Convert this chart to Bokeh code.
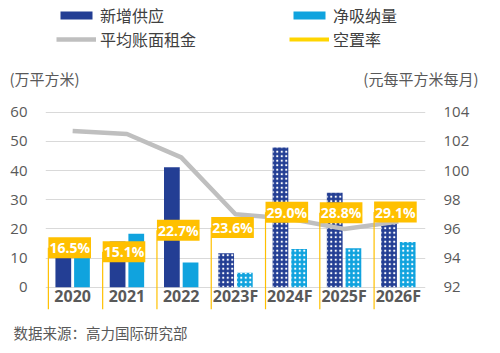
from bokeh.plotting import figure
from bokeh.layouts import column
from bokeh.models import (Range1d, LinearAxis, FixedTicker, ColumnDataSource, Legend,
                          LegendItem, Label, FactorRange, Title)
from bokeh.transform import dodge
from bokeh.core.properties import value
from bokeh.embed import file_html
from bokeh.resources import INLINE

# ---------------- data ----------------
years = ["2020", "2021", "2022", "2023F", "2024F", "2025F", "2026F"]
new_supply = [10.0, 15.7, 41.1, 11.7, 47.9, 32.4, 22.0]        # 万平方米
net_absorption = [10.0, 18.3, 8.5, 5.0, 13.1, 13.4, 15.5]     # 万平方米
avg_rent = [102.7, 102.5, 100.9, 97.0, 96.7, 96.0, 96.5]      # 元每平方米每月
vacancy = [16.5, 15.1, 22.7, 23.6, 29.0, 28.8, 29.1]          # %
left_ticks = [0, 10, 20, 30, 40, 50, 60]
right_ticks = [92, 94, 96, 98, 100, 102, 104]
series_names = ["新增供应", "净吸纳量", "平均账面租金", "空置率"]
left_title = "(万平方米)"
right_title = "(元每平方米每月)"
source_note = "数据来源：高力国际研究部"

# ---------------- styles ----------------
NAVY = "#233E94"
CYAN = "#10A3DE"
GRAY = "#BFBFBF"
YELLOW = "#FFC000"
LEG_YELLOW = "#FFD500"
TXT = "#595959"
CJK = "Noto Sans CJK SC"
LAT = "Open Sans"
VAC_FLOOR = -5.25
HEAD_H = 95

is_fc = [y.endswith("F") for y in years]


def subset(mask):
    idx = [i for i, m in enumerate(mask) if m]
    return ColumnDataSource(dict(
        year=[years[i] for i in idx],
        supply=[new_supply[i] for i in idx],
        absorb=[net_absorption[i] for i in idx],
    ))


src_act = subset([not f for f in is_fc])
src_fc = subset(is_fc)
src = ColumnDataSource(dict(
    year=years, rent=avg_rent, vac=vacancy,
    vac_label=[f"{v:.1f}%" for v in vacancy],
    floor=[VAC_FLOOR] * len(years),
))

# ---------------- header (legend + axis titles) ----------------
h = figure(width=500, height=HEAD_H, x_range=FactorRange(*years), y_range=Range1d(0, 60),
           output_backend="svg", toolbar_location=None, x_axis_location=None,
           y_axis_location=None, min_border=0, outline_line_color=None)
h.frame_align = False
h.grid.visible = False
hr_sup = h.vbar(x="year", top="supply", width=0.3, source=src_act, fill_color=NAVY,
                line_color=None, visible=False)
hr_abs = h.vbar(x="year", top="absorb", width=0.3, source=src_act, fill_color=CYAN,
                line_color=None, visible=False)
hr_rent = h.line("year", "rent", source=src, line_color=GRAY, line_width=4.5, visible=False)
hr_vac = h.line("year", "vac", source=src, line_color=LEG_YELLOW, line_width=4, visible=False)

leg_style = dict(label_text_font=CJK, label_text_font_size="16px", label_text_color="#404040",
                 glyph_width=40, glyph_height=10, label_standoff=4, spacing=-1, padding=0,
                 margin=0, border_line_color=None, background_fill_alpha=0, label_height=18)
leg1 = Legend(items=[LegendItem(label=series_names[0], renderers=[hr_sup]),
                     LegendItem(label=series_names[2], renderers=[hr_rent])],
              location=(56, 44), **leg_style)
leg2 = Legend(items=[LegendItem(label=series_names[1], renderers=[hr_abs]),
                     LegendItem(label=series_names[3], renderers=[hr_vac])],
              location=(289, 44), **leg_style)
h.add_layout(leg1, "center")
h.add_layout(leg2, "center")
h.add_layout(Label(x=9, y=HEAD_H - 78, x_units="screen", y_units="screen", text=left_title,
                   text_baseline="middle", text_font=CJK, text_font_size="15px", text_color=TXT))
h.add_layout(Label(x=478, y=HEAD_H - 78, x_units="screen", y_units="screen", text=right_title,
                   text_baseline="middle", text_align="right", text_font=CJK,
                   text_font_size="15px", text_color=TXT))

# ---------------- main chart ----------------
p = figure(width=500, height=353 - HEAD_H, x_range=FactorRange(*years),
           y_range=Range1d(-7.60, 65.69),
           output_backend="svg", toolbar_location=None, x_axis_location=None,
           min_border_left=45, min_border_right=75, min_border_top=0, min_border_bottom=40,
           outline_line_color=None)
p.frame_align = False
p.extra_y_ranges = {"rent": Range1d(90.48, 105.138), "vac": Range1d(-5.27, 70.17)}

lt = FixedTicker(ticks=left_ticks)
ax = p.yaxis[0]
ax.ticker = lt
p.ygrid.ticker = lt
p.ygrid.grid_line_color = "#D9D9D9"
p.xgrid.visible = False
ra = LinearAxis(y_range_name="rent", ticker=FixedTicker(ticks=right_ticks))
p.add_layout(ra, "right")
for a in (ax, ra):
    a.axis_line_color = None
    a.major_tick_line_color = None
    a.minor_tick_line_color = None
    a.major_tick_out = 0
    a.major_tick_in = 0
    a.major_label_standoff = 18
    a.major_label_text_font = LAT
    a.major_label_text_font_size = "15px"
    a.major_label_text_color = TXT

BW = 0.29
OFF = 0.172
p.vbar(x=dodge("year", -OFF, range=p.x_range), top="supply", width=BW, source=src_act,
       fill_color=NAVY, line_color=None)
p.vbar(x=dodge("year", OFF, range=p.x_range), top="absorb", width=BW, source=src_act,
       fill_color=CYAN, line_color=None)
hatch = dict(hatch_pattern="dot", hatch_color="white", hatch_scale=4.5, hatch_weight=1.6,
             line_color=None)
p.vbar(x=dodge("year", -OFF, range=p.x_range), top="supply", width=BW, source=src_fc,
       fill_color=NAVY, **hatch)
p.vbar(x=dodge("year", OFF, range=p.x_range), top="absorb", width=BW, source=src_fc,
       fill_color=CYAN, **hatch)

p.line("year", "rent", source=src, y_range_name="rent", line_color=GRAY,
       line_width=4.5, line_join="round")

LX = dodge("year", -0.447, range=p.x_range)
p.segment(x0=LX, y0="vac", x1=LX, y1="floor", source=src, y_range_name="vac",
          line_color=YELLOW, line_width=1.2)
p.text(x=LX, y="vac", text="vac_label", source=src, y_range_name="vac",
       text_align="left", text_baseline="middle", text_color="white",
       text_font=value(LAT), text_font_style="bold", text_font_size="14px",
       background_fill_color=YELLOW, padding=1)

# category labels
p.text(x="year", y=-2.85, text="year", source=src, text_align="center", text_baseline="middle",
       text_color=TXT, text_font=value(LAT), text_font_style="bold", text_font_size="16px")

p.add_layout(Title(text=source_note, align="left", offset=-32, standoff=21,
                   text_font=CJK, text_font_size="14.5px", text_font_style="normal",
                   text_color=TXT), "below")

layout = column(h, p, spacing=0)
open("out.html", "w").write(file_html(layout, INLINE))
